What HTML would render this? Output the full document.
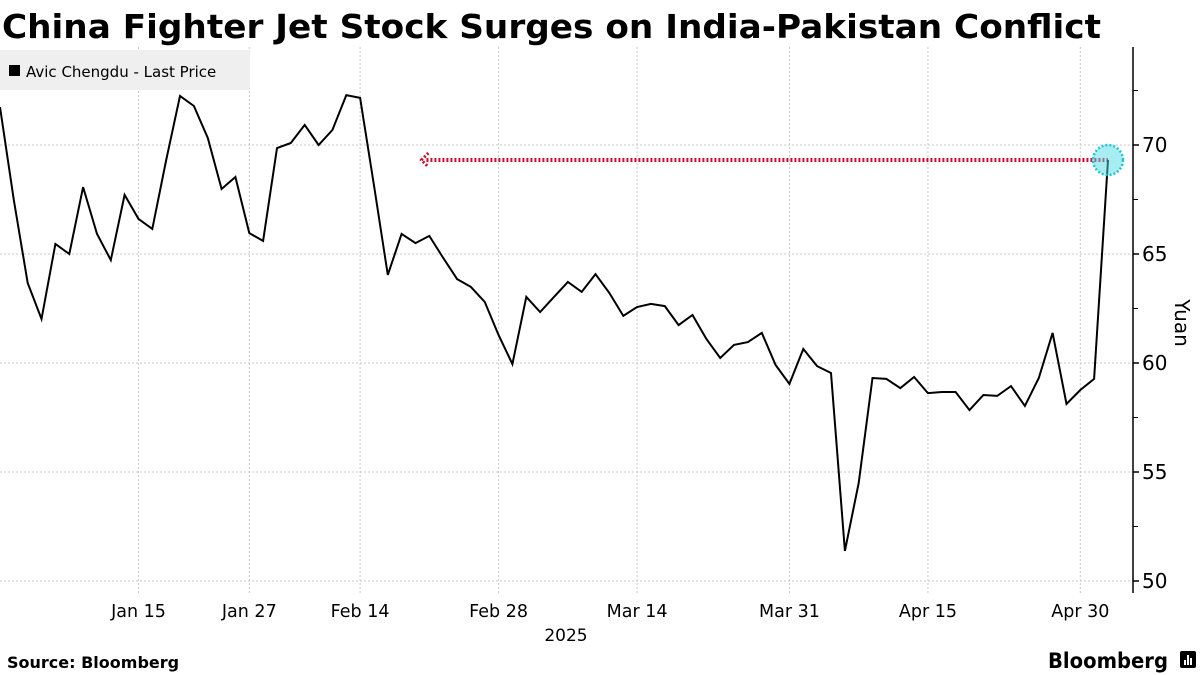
<!DOCTYPE html>
<html><head><meta charset="utf-8"><style>
html,body{margin:0;padding:0;background:#fff;}
svg{display:block;font-family:"DejaVu Sans","Liberation Sans",sans-serif;}
</style></head><body>
<svg id="chart" width="1200" height="675" viewBox="0 0 1200 675">
<text x="2" y="38" font-size="33" font-weight="bold" textLength="1099" lengthAdjust="spacingAndGlyphs">China Fighter Jet Stock Surges on India-Pakistan Conflict</text>
<g id="grid"></g>
<rect x="0" y="50" width="250" height="40" fill="#efefef"/>
<rect x="9" y="65" width="11" height="11" fill="#000"/>
<text x="26" y="77" font-size="15">Avic Chengdu - Last Price</text>
<g id="marks"></g>
<g id="axes"></g>
<text x="0" y="0" font-size="20" transform="translate(1175,323) rotate(90)" text-anchor="middle">Yuan</text>
<text x="566" y="641" font-size="17" text-anchor="middle">2025</text>
<text x="7" y="668" font-size="16" font-weight="bold">Source: Bloomberg</text>
<text x="1048" y="668" font-size="21" font-weight="bold" textLength="120" lengthAdjust="spacingAndGlyphs">Bloomberg</text>
<g><rect x="1180" y="651" width="16" height="17" rx="2" fill="#000"/><rect x="1184" y="660" width="2" height="5" fill="#fff"/><rect x="1187" y="655" width="2" height="10" fill="#fff"/><rect x="1190" y="658" width="2" height="7" fill="#fff"/></g>
</svg>
<script>
const prices = [71.74,67.48,63.67,62.02,65.46,65.0,68.07,65.92,64.72,67.71,66.61,66.15,69.31,72.25,71.79,70.32,67.98,68.53,65.96,65.60,69.86,70.09,70.92,70.0,70.69,72.29,72.16,68.17,64.04,65.92,65.50,65.83,64.82,63.85,63.49,62.80,61.28,59.95,63.03,62.34,63.03,63.72,63.26,64.08,63.21,62.16,62.57,62.71,62.61,61.74,62.20,61.10,60.23,60.83,60.96,61.38,59.91,59.04,60.64,59.86,59.54,51.38,54.50,59.31,59.27,58.85,59.36,58.62,58.67,58.67,57.84,58.53,58.49,58.94,58.03,59.31,61.38,58.12,58.76,59.27,69.31];
const xTickIdx = [10,18,26,36,46,57,67,78];
const xTickLabels = ["Jan 15","Jan 27","Feb 14","Feb 28","Mar 14","Mar 31","Apr 15","Apr 30"];
const yTicks = [50,55,60,65,70];
const yMinor = [52.5,57.5,62.5,67.5,72.5];
const arrowFromIdx = 30.5;
const arrowValue = 69.31;

const NS="http://www.w3.org/2000/svg";
const X0=0, DX=1108/80, AX=1133, TOP=47, BOT=593;
const xs=i=>X0+i*DX;
const ys=v=>145+(70-v)*21.8;
function mk(tag,attrs,parent){const e=document.createElementNS(NS,tag);for(const k in attrs)e.setAttribute(k,attrs[k]);parent.appendChild(e);return e;}
const grid=document.getElementById('grid'),marks=document.getElementById('marks'),axes=document.getElementById('axes');
yTicks.forEach(v=>{
  const l=mk('line',{x1:0,x2:AX,y1:ys(v),y2:ys(v),stroke:'#c8c8c8','stroke-dasharray':'2,2','stroke-width':1},grid);
  
  
  const t=mk('line',{x1:AX,x2:AX+6,y1:ys(v),y2:ys(v),stroke:'#000','stroke-width':1.5},axes);
  
  
  const tx=mk('text',{x:AX+9,y:ys(v)+7,'font-size':20},axes);
  tx.textContent=v;
  
  
});
yMinor.forEach(v=>{
  const t=mk('line',{x1:AX,x2:AX+5,y1:ys(v),y2:ys(v),stroke:'#000','stroke-width':1},axes);
  
  
});
xTickIdx.forEach((i,k)=>{
  const l=mk('line',{x1:xs(i),x2:xs(i),y1:TOP,y2:BOT,stroke:'#c8c8c8','stroke-dasharray':'2,2','stroke-width':1},grid);
  
  
  const tx=mk('text',{x:xs(i),y:617,'font-size':17.5,'text-anchor':'middle'},axes);
  tx.textContent=xTickLabels[k];
  
  
});
const ax=mk('line',{x1:AX,x2:AX,y1:TOP,y2:BOT,stroke:'#000','stroke-width':1.5},axes);


const last=prices.length-1;
const ay=ys(arrowValue);
const arr=mk('line',{x1:xs(arrowFromIdx)+4,x2:xs(last),y1:ay,y2:ay,stroke:'#c8102e','stroke-width':4,'stroke-dasharray':'2,2'},marks);


const ah=mk('polyline',{points:`${xs(arrowFromIdx)+6},${ay-7} ${xs(arrowFromIdx)-1},${ay} ${xs(arrowFromIdx)+6},${ay+7}`,fill:'none',stroke:'#c8102e','stroke-width':3,'stroke-dasharray':'2,2'},marks);


const line=mk('polyline',{points:prices.map((v,i)=>xs(i).toFixed(1)+','+ys(v).toFixed(1)).join(' '),fill:'none',stroke:'#000','stroke-width':2,'stroke-linejoin':'miter'},marks);


const c=mk('circle',{cx:xs(last),cy:ys(prices[last]),r:15,fill:'rgba(80,220,230,0.5)',stroke:'#1fc6d3','stroke-width':2.5,'stroke-dasharray':'2,2'},marks);


</script>
</body></html>
